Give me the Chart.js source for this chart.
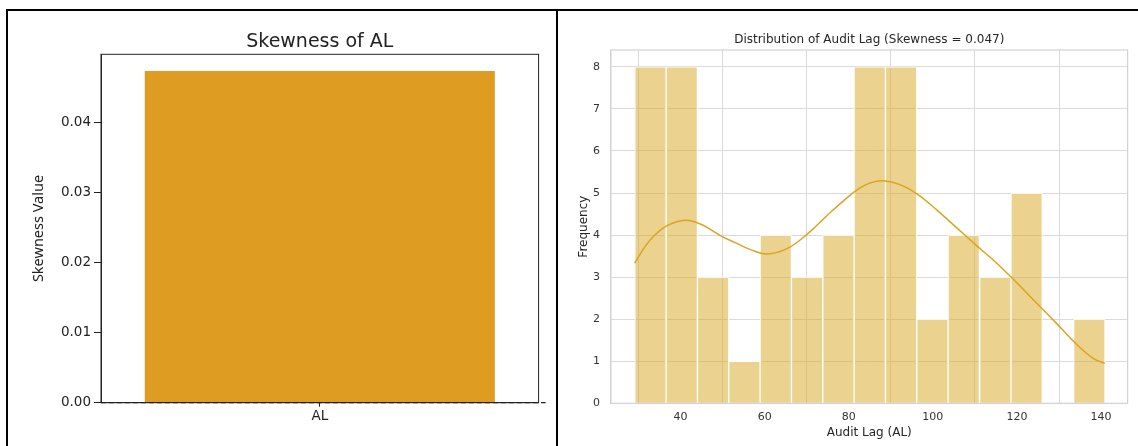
<!DOCTYPE html>
<html>
<head>
<meta charset="utf-8">
<title>Skewness of AL</title>
<script src="https://cdn.jsdelivr.net/npm/chart.js@4.4.1/dist/chart.umd.min.js"></script>
<style>
  html, body { margin: 0; padding: 0; background: #fff; }
  body { width: 1138px; height: 446px; position: relative; overflow: hidden; }
  .cell { position: absolute; top: 9px; height: 437px; box-sizing: border-box; border-top: 2px solid #000; }
  #cellLeft { left: 6px; width: 552px; border-left: 2px solid #000; border-right: 2px solid #000; }
  #cellRight { left: 558px; width: 580px; }
  .box { position: absolute; top: 12px; height: 434px; }
  #boxLeft { left: 9px; width: 546px; }
  #boxRight { left: 559px; width: 579px; }
</style>
</head>
<body>
<div class="cell" id="cellLeft"></div>
<div class="cell" id="cellRight"></div>
<div class="box" id="boxLeft"><canvas id="chart-skew"></canvas></div>
<div class="box" id="boxRight"><canvas id="chart-hist"></canvas></div>
<script>
// --- left panel: skewness bar ---
const skewLabels = ["AL"];
const skewValues = [0.0473];
const skewTicks = [0, 0.01, 0.02, 0.03, 0.04];

// --- right panel: histogram + kde ---
const binEdges = [29.1, 36.6, 44.0, 51.5, 58.9, 66.4, 73.8, 81.3, 88.7, 96.2, 103.6, 111.1, 118.6, 126.0, 133.5, 140.9];
const binCounts = [8, 8, 3, 1, 4, 3, 4, 8, 8, 2, 4, 3, 5, 0, 2];
const kdeX = [29.1, 31.6, 33.9, 36.7, 41.1, 45.0, 49.8, 53.0, 56.5, 60.5, 65.2, 70.0, 74.8, 79.5, 82.7, 85.1, 88.2, 92.2, 96.2, 100.9, 105.7, 110.4, 115.2, 119.9, 124.7, 129.4, 134.2, 138.1, 140.9];
const kdeY = [3.33, 3.73, 4.00, 4.22, 4.35, 4.25, 3.97, 3.82, 3.66, 3.55, 3.67, 4.01, 4.46, 4.88, 5.12, 5.24, 5.29, 5.20, 4.98, 4.60, 4.17, 3.75, 3.33, 2.87, 2.38, 1.90, 1.40, 1.07, 0.95];
const histXTicks = [40, 60, 80, 100, 120, 140];
const histYTicks = [0, 1, 2, 3, 4, 5, 6, 7, 8];

// cadre autour de la zone de tracé
const framePlugin = {
    id: "frame",
    afterDraw(chart, args, opts) {
        const { ctx, chartArea: a } = chart;
        ctx.save();
        ctx.strokeStyle = opts.color;
        ctx.lineWidth = opts.width;
        ctx.strokeRect(a.left, a.top, a.right - a.left, a.bottom - a.top);
        ctx.restore();
    }
};

// ligne pointillée à y = 0
const zeroLinePlugin = {
    id: "zeroLine",
    afterDatasetsDraw(chart) {
        const { ctx, chartArea: a } = chart;
        const y = chart.scales.y.getPixelForValue(0);
        ctx.save();
        ctx.strokeStyle = "#222";
        ctx.lineWidth = 1.2;
        ctx.setLineDash([5, 3]);
        ctx.beginPath();
        ctx.moveTo(a.left, y);
        ctx.lineTo(a.right + 7, y);
        ctx.stroke();
        ctx.restore();
    }
};

Chart.defaults.font.family = "'DejaVu Sans', sans-serif";
Chart.defaults.animation = false;

new Chart(document.getElementById("chart-skew").getContext("2d"), {
    type: "bar",
    data: {
        labels: skewLabels,
        datasets: [{
            data: skewValues,
            backgroundColor: "#de9c22",
            barPercentage: 0.8,
            categoryPercentage: 1
        }]
    },
    options: {
        responsive: true,
        maintainAspectRatio: false,
        layout: { padding: { left: 0, right: 16.4, top: 0, bottom: 0 } },
        plugins: {
            legend: { display: false },
            tooltip: { enabled: false },
            title: {
                display: true,
                text: "Skewness of AL",
                fullSize: false,
                color: "#222",
                font: { size: 19, weight: "normal" },
                padding: { top: 18.9, bottom: 0.6 }
            },
            frame: { color: "#222", width: 1 }
        },
        scales: {
            x: {
                afterFit(s) { s.height = 43.3; },
                grid: { drawOnChartArea: false, offset: false, tickLength: 4, color: "#222" },
                border: { color: "#222" },
                ticks: { color: "#222", padding: 2, font: { size: 13.5 } }
            },
            y: {
                min: 0,
                max: 0.0497,
                afterFit(s) { s.width = 92; },
                afterBuildTicks(s) { s.ticks = skewTicks.map(v => ({ value: v })); },
                grid: { drawOnChartArea: false, tickLength: 7, color: "#222" },
                border: { color: "#222" },
                ticks: { color: "#222", padding: 3, font: { size: 13.5 }, callback: v => Number(v).toFixed(2) },
                title: {
                    display: true,
                    text: "Skewness Value",
                    color: "#222",
                    font: { family: "'Noto Sans', sans-serif", size: 14.5 },
                    padding: { top: 20.9, bottom: 0 }
                }
            }
        }
    },
    plugins: [framePlugin, zeroLinePlugin]
});

const histData = binCounts.map((c, i) => ({ x: (binEdges[i] + binEdges[i + 1]) / 2, y: c }));
const kdeData = kdeX.map((x, i) => ({ x: x, y: kdeY[i] }));

new Chart(document.getElementById("chart-hist").getContext("2d"), {
    type: "bar",
    data: {
        datasets: [{
            type: "line",
            data: kdeData,
            borderColor: "#daa520",
            borderWidth: 1.5,
            pointRadius: 0,
            tension: 0.4,
            order: 0
        }, {
            type: "bar",
            data: histData,
            backgroundColor: "rgba(218,165,32,0.5)",
            borderColor: "#ffffff",
            borderWidth: 1,
            barPercentage: 1,
            categoryPercentage: 1,
            order: 1
        }]
    },
    options: {
        responsive: true,
        maintainAspectRatio: false,
        layout: { padding: { left: 0, right: 10.4, top: 0, bottom: 0 } },
        plugins: {
            legend: { display: false },
            tooltip: { enabled: false },
            title: {
                display: true,
                text: "Distribution of Audit Lag (Skewness = 0.047)",
                fullSize: false,
                color: "#262626",
                font: { size: 12, weight: "normal" },
                padding: { top: 20.8, bottom: 2.8 }
            },
            frame: { color: "#d2d2d2", width: 1.2 }
        },
        scales: {
            x: {
                type: "linear",
                min: 23.45,
                max: 146.3,
                offset: false,
                afterFit(s) { s.height = 42.7; },
                afterBuildTicks(s) { s.ticks = histXTicks.map(v => ({ value: v })); },
                grid: { color: "#dadada", drawTicks: false },
                border: { color: "#d2d2d2" },
                ticks: { color: "#333", padding: 7, font: { size: 11 } },
                title: {
                    display: true,
                    text: "Audit Lag (AL)",
                    color: "#262626",
                    font: { size: 12 },
                    padding: { top: 0, bottom: 5.8 }
                }
            },
            y: {
                min: 0,
                max: 8.4,
                afterFit(s) { s.width = 51.9; },
                afterBuildTicks(s) { s.ticks = histYTicks.map(v => ({ value: v })); },
                grid: { color: "#dadada", drawTicks: false },
                border: { color: "#d2d2d2" },
                ticks: { color: "#333", padding: 11, font: { size: 11 } },
                title: {
                    display: true,
                    text: "Frequency",
                    color: "#262626",
                    font: { size: 12 },
                    padding: { top: 17.8, bottom: 0 }
                }
            }
        }
    },
    plugins: [framePlugin]
});
</script>
</body>
</html>
